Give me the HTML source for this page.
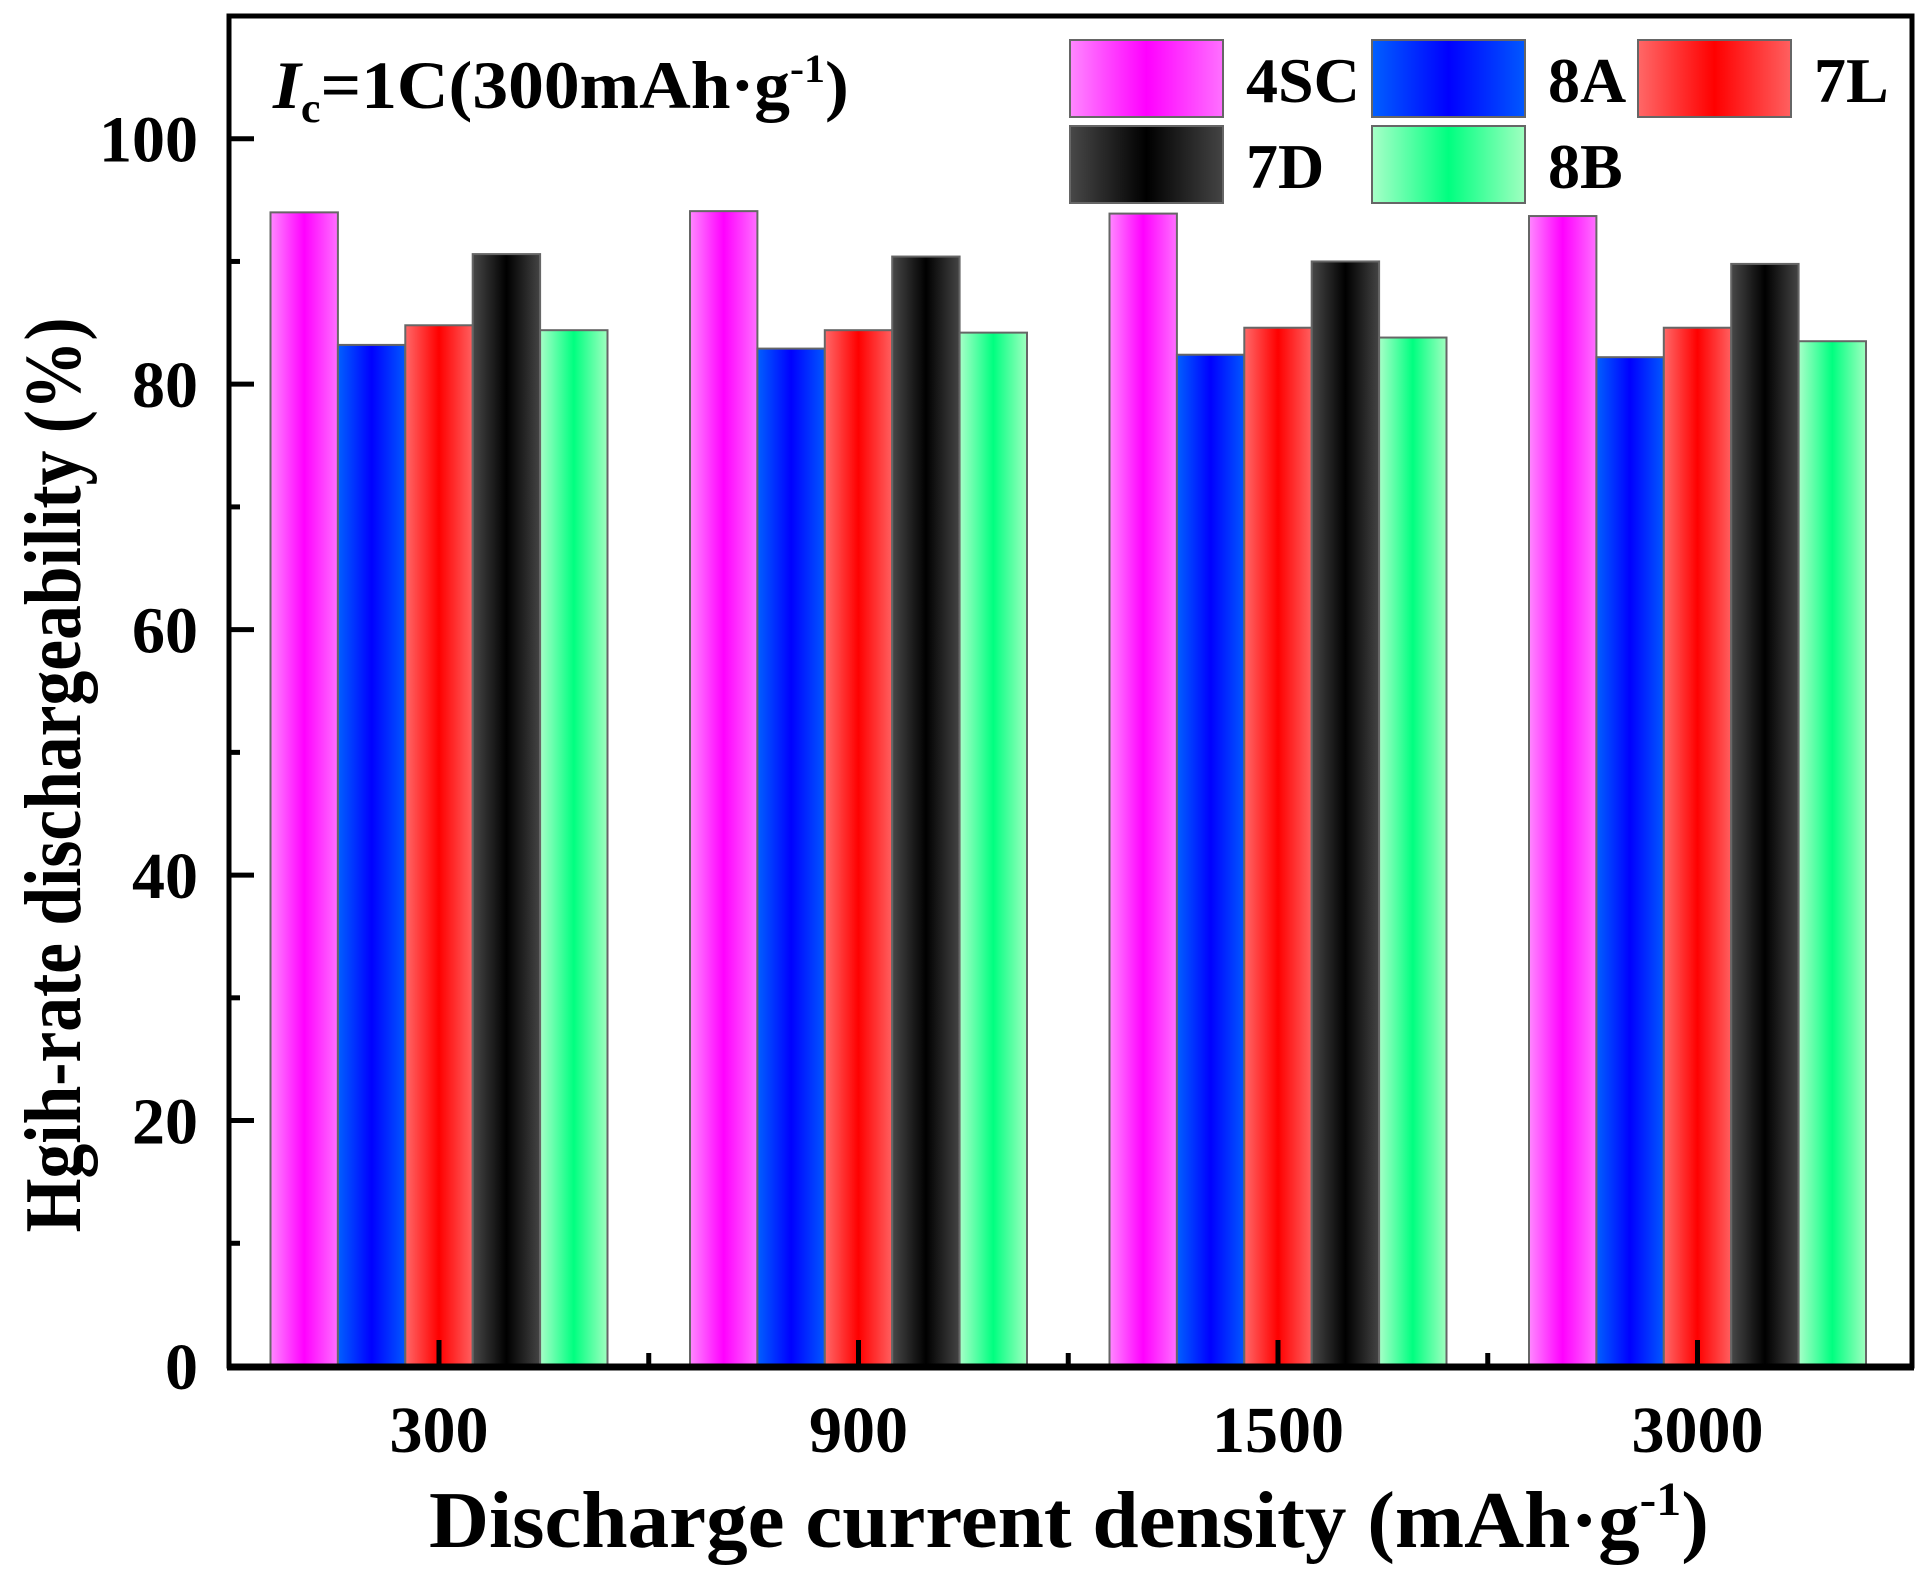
<!DOCTYPE html>
<html><head><meta charset="utf-8"><style>
html,body{margin:0;padding:0;background:#fff;}
svg{display:block;font-family:"Liberation Serif",serif;font-weight:bold;}
</style></head><body>
<svg id="chart" width="1919" height="1575" viewBox="0 0 1919 1575" xmlns="http://www.w3.org/2000/svg">
<defs>
<linearGradient id="g0" x1="0" x2="1" y1="0" y2="0"><stop offset="0" stop-color="#ff88ff"/><stop offset="0.5" stop-color="#ff00ff"/><stop offset="1" stop-color="#ff70ff"/></linearGradient>
<linearGradient id="g1" x1="0" x2="1" y1="0" y2="0"><stop offset="0" stop-color="#0060ff"/><stop offset="0.5" stop-color="#0000ff"/><stop offset="1" stop-color="#0058ff"/></linearGradient>
<linearGradient id="g2" x1="0" x2="1" y1="0" y2="0"><stop offset="0" stop-color="#ff6868"/><stop offset="0.5" stop-color="#ff0000"/><stop offset="1" stop-color="#ff6060"/></linearGradient>
<linearGradient id="g3" x1="0" x2="1" y1="0" y2="0"><stop offset="0" stop-color="#484848"/><stop offset="0.5" stop-color="#000000"/><stop offset="1" stop-color="#444444"/></linearGradient>
<linearGradient id="g4" x1="0" x2="1" y1="0" y2="0"><stop offset="0" stop-color="#a8ffc8"/><stop offset="0.5" stop-color="#00ff80"/><stop offset="1" stop-color="#a0ffc0"/></linearGradient>
</defs>
<g id="bars"></g>
<g id="axes"></g>
<g id="annot-g">
<text id="annot" x="0" y="0" font-size="68"><tspan font-style="italic">I</tspan><tspan font-size="42" dy="14">c</tspan><tspan dy="-14">=1C(300mAh·g</tspan><tspan font-size="40" dy="-26">-1</tspan><tspan dy="26">)</tspan></text>
</g>
<g id="legend"></g>
<g id="xt-g">
<text id="xt" x="0" y="0" font-size="80">Discharge current density (mAh·g<tspan font-size="48" dy="-32">-1</tspan><tspan dy="32">)</tspan></text>
</g>
<text transform="translate(80,775) rotate(-90)" text-anchor="middle" font-size="80" textLength="915" lengthAdjust="spacingAndGlyphs">Hgih-rate dischargeability (%)</text>
</svg>
<script>
const categories = ["300", "900", "1500", "3000"];
const seriesNames = ["4SC", "8A", "7L", "7D", "8B"];
const s4SC = [94.0, 94.1, 93.9, 93.7];
const s8A = [83.2, 82.9, 82.4, 82.2];
const s7L = [84.8, 84.4, 84.6, 84.6];
const s7D = [90.6, 90.4, 90.0, 89.8];
const s8B = [84.4, 84.2, 83.8, 83.5];
const yTicks = [0, 20, 40, 60, 80, 100];
const yMinor = [10, 30, 50, 70, 90];
const yMax = 110;

const NS = "http://www.w3.org/2000/svg";
const L = 229, R = 1912, T = 16, B = 1366;
const series = [s4SC, s8A, s7L, s7D, s8B];
const band = 419.5;
const barW = 67.4;
function xC(i){ return 439 + band * i; }
function yS(v){ return B - (v / yMax) * (B - T); }
function mk(tag, attrs, parent){ const e = document.createElementNS(NS, tag); for (const k in attrs) e.setAttribute(k, attrs[k]); parent.appendChild(e); return e; }

const gb = document.getElementById('bars');
series.forEach((arr, s) => {
  arr.forEach((v, i) => {
    const x = xC(i) - barW * 2.5 + s * barW;
    const r = mk('rect', {x: x, y: yS(v), width: barW, height: B - yS(v), fill: 'url(#g' + s + ')', stroke: '#666', 'stroke-width': 2}, gb);
    
    
  });
});

const ga = document.getElementById('axes');
const frame = mk('rect', {x: L, y: T, width: R - L, height: B - T, fill: 'none', stroke: '#000', 'stroke-width': 5}, ga);


mk('line', {x1: L - 2, x2: R + 2, y1: B + 1, y2: B + 1, stroke: '#000', 'stroke-width': 7}, ga);
yTicks.forEach(v => {
  mk('line', {x1: L, x2: L + 25, y1: yS(v), y2: yS(v), stroke: '#000', 'stroke-width': 5}, ga);
  const t = mk('text', {x: 198, y: yS(v) + 23, 'text-anchor': 'end', 'font-size': 66}, ga);
  t.textContent = v;
  
  
});
yMinor.forEach(v => mk('line', {x1: L, x2: L + 11, y1: yS(v), y2: yS(v), stroke: '#000', 'stroke-width': 5}, ga));
categories.forEach((c, i) => {
  mk('line', {x1: xC(i), x2: xC(i), y1: B, y2: B - 26, stroke: '#000', 'stroke-width': 5}, ga);
  if (i > 0) mk('line', {x1: xC(i) - band / 2, x2: xC(i) - band / 2, y1: B, y2: B - 13, stroke: '#000', 'stroke-width': 5}, ga);
  const t = mk('text', {x: xC(i), y: 1452, 'text-anchor': 'middle', 'font-size': 66}, ga);
  t.textContent = c;
  
  
});

const gl = document.getElementById('legend');
const legPos = [[1070, 40], [1372, 40], [1638, 40], [1070, 126], [1372, 126]];
seriesNames.forEach((n, s) => {
  const [x, y] = legPos[s];
  const r = mk('rect', {x: x, y: y, width: 153, height: 77, fill: 'url(#g' + s + ')', stroke: '#666', 'stroke-width': 2}, gl);
  
  
  const t = mk('text', {x: x + 176, y: y + 62, 'font-size': 64}, gl);
  t.textContent = n;
  
  
});

function fitText(id, gid, x0, x1, y){
  const el = document.getElementById(id);
  const bb = el.getBBox();
  const sx = (x1 - x0) / bb.width;
  document.getElementById(gid).setAttribute('transform', 'translate(' + (x0 - bb.x * sx) + ',' + y + ') scale(' + sx + ',1)');
}
fitText('annot', 'annot-g', 272, 849, 108);
fitText('xt', 'xt-g', 429, 1709, 1547);
</script>
</body></html>
